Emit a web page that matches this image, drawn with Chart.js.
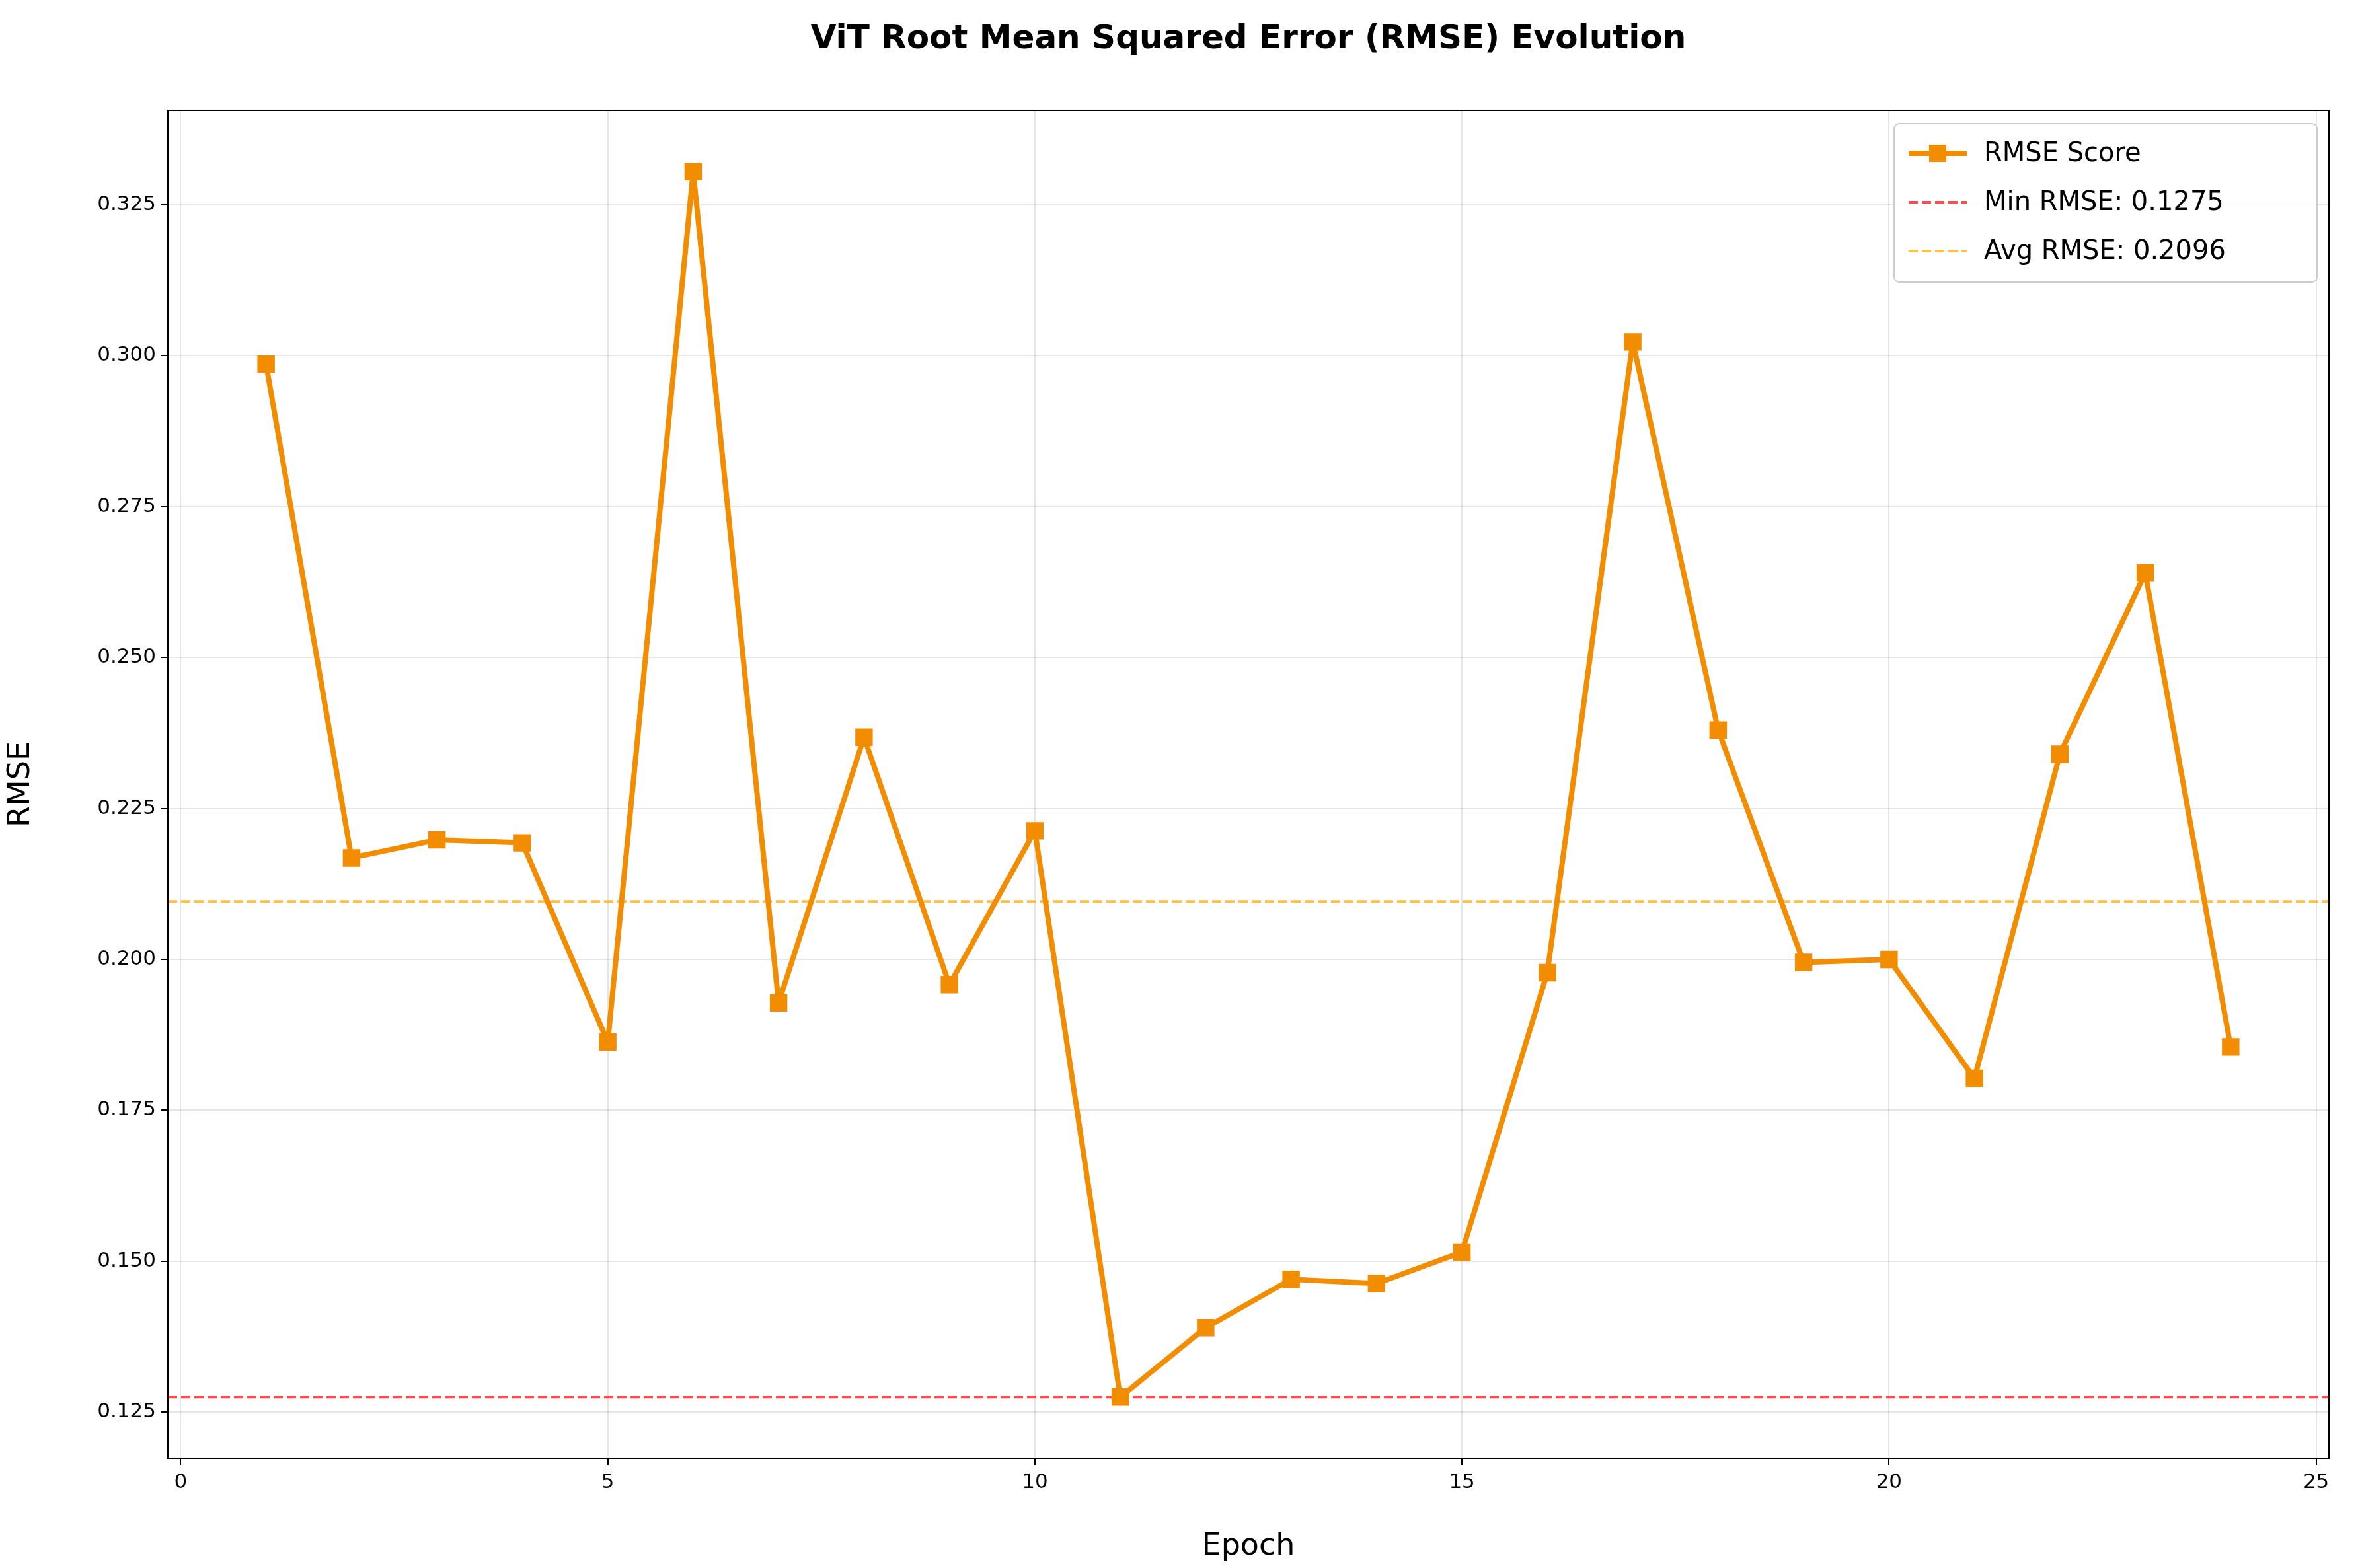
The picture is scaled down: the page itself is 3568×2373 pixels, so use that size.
<!DOCTYPE html>
<html><head><meta charset="utf-8">
<script src="https://cdn.jsdelivr.net/npm/chart.js@4"></script>
<style>html,body{margin:0;background:#fff}#wrap{width:3568px;height:2373px}</style>
</head><body><div id="wrap"><canvas id="c"></canvas></div>
<script>
const epochs = [1,2,3,4,5,6,7,8,9,10,11,12,13,14,15,16,17,18,19,20,21,22,23,24];
const rmse = [0.2986,0.2168,0.2198,0.2193,0.1863,0.3305,0.1928,0.2368,0.1958,0.2213,0.1275,0.1390,0.1470,0.1463,0.1515,0.1978,0.3023,0.2380,0.1995,0.2000,0.1803,0.2340,0.2640,0.1855];
const minRmse = 0.1275, avgRmse = 0.2096;
const xTicks = [0,5,10,15,20,25];
const yTicks = [0.125,0.150,0.175,0.200,0.225,0.250,0.275,0.300,0.325];
const font = 'DejaVu Sans';
const X0 = -0.15, X1 = 25.15;

const overlay = {
  id:'overlay',
  afterDraw(chart){
    const c = chart.ctx, a = chart.chartArea;
    c.save();
    c.strokeStyle='#000'; c.lineWidth=2;
    c.strokeRect(a.left, a.top, a.right-a.left, a.bottom-a.top);
    c.fillStyle='#000'; c.textAlign='center'; c.textBaseline='middle';
    c.font = 'bold 50px "'+font+'"';
    c.fillText('ViT Root Mean Squared Error (RMSE) Evolution', (a.left+a.right)/2, 60);
    // legend
    const bw=640, bh=240, bx=a.right-bw-18, by=a.top+20;
    c.fillStyle='rgba(255,255,255,0.8)'; c.strokeStyle='#ccc'; c.lineWidth=2;
    c.beginPath(); c.roundRect(bx,by,bw,bh,8); c.fill(); c.stroke();
    const items=[['RMSE Score','#f28c00',8,[],true],['Min RMSE: 0.1275','rgba(255,0,0,0.7)',4,[14,6],false],['Avg RMSE: 0.2096','rgba(255,165,0,0.7)',4,[14,6],false]];
    c.font='40px "'+font+'"'; c.textAlign='left';
    items.forEach((it,i)=>{
      const y=by+45+i*74;
      c.strokeStyle=it[1]; c.lineWidth=it[2]; c.setLineDash(it[3]);
      c.beginPath(); c.moveTo(bx+22,y); c.lineTo(bx+110,y); c.stroke(); c.setLineDash([]);
      if(it[4]){ c.fillStyle=it[1]; c.fillRect(bx+66-13,y-13,26,26); }
      c.fillStyle='#000'; c.fillText(it[0], bx+136, y+2);
    });
    c.restore();
  }
};

new Chart(document.getElementById('c'), {
  type:'line',
  data:{datasets:[
    {data:epochs.map((e,i)=>({x:e,y:rmse[i]})), borderColor:'#f28c00', backgroundColor:'#f28c00', borderWidth:8, borderJoinStyle:'round', pointStyle:'rect', pointRadius:13, tension:0},
    {data:[{x:X0,y:minRmse},{x:X1,y:minRmse}], borderColor:'rgba(255,0,0,0.7)', borderWidth:4, borderDash:[14,6], pointRadius:0},
    {data:[{x:X0,y:avgRmse},{x:X1,y:avgRmse}], borderColor:'rgba(255,165,0,0.7)', borderWidth:4, borderDash:[14,6], pointRadius:0}
  ]},
  options:{
    responsive:true, maintainAspectRatio:false, devicePixelRatio:1, animation:false,
    layout:{padding:{top:167,right:44}},
    plugins:{legend:{display:false}, tooltip:{enabled:false}},
    scales:{
      x:{type:'linear', min:X0, max:X1,
        afterBuildTicks(s){ s.ticks = xTicks.map(v=>({value:v})); },
        afterFit(s){ s.height=166; },
        ticks:{font:{family:font,size:31}, color:'#000', padding:8},
        grid:{color:'rgba(0,0,0,0.1)', lineWidth:2, tickLength:10, tickColor:'#000'},
        border:{color:'#000', width:2},
        title:{display:true, text:'Epoch', font:{family:font,size:46}, color:'#000', padding:{top:4}}},
      y:{min:0.11735, max:0.34065,
        afterBuildTicks(s){ s.ticks = yTicks.map(v=>({value:v})); },
        afterFit(s){ s.width=254; },
        ticks:{font:{family:font,size:31}, color:'#000', padding:8, callback:v=>v.toFixed(3)},
        grid:{color:'rgba(0,0,0,0.1)', lineWidth:2, tickLength:10, tickColor:'#000'},
        border:{color:'#000', width:2},
        title:{display:true, text:'RMSE', font:{family:font,size:46}, color:'#000', padding:{bottom:6}}}
    }
  },
  plugins:[overlay]
});
</script></body></html>
